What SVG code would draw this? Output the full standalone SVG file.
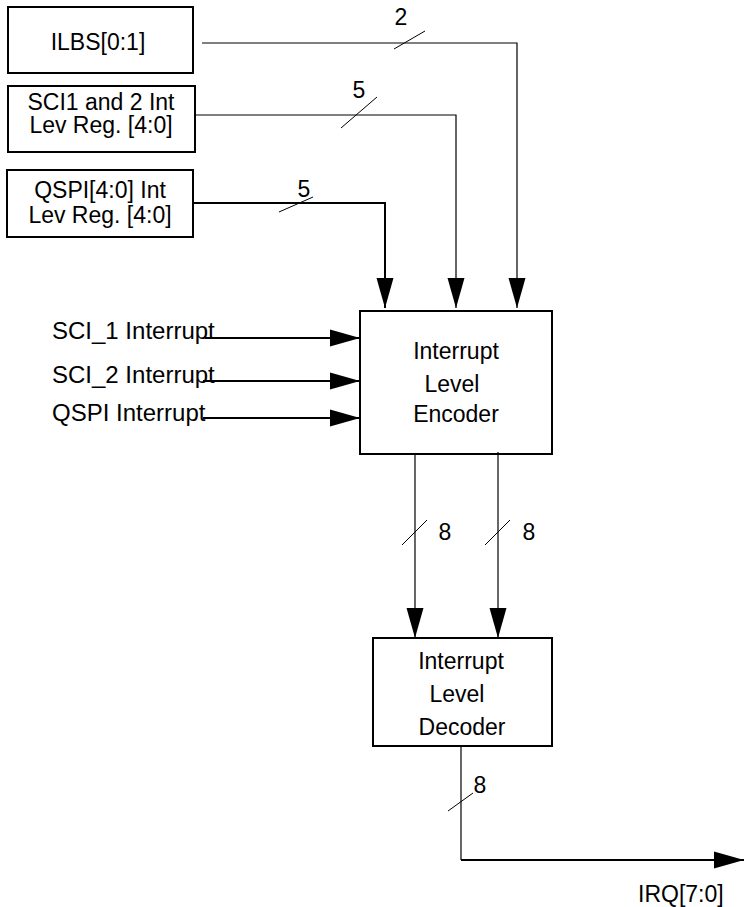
<svg xmlns="http://www.w3.org/2000/svg" width="744" height="907" viewBox="0 0 744 907">
<defs>
<style>
text{font-family:"Liberation Sans",Arial,Helvetica,sans-serif;font-size:23px;fill:#000}
.c{text-anchor:middle}
.lbl{font-size:24px}
.box{fill:#fff;stroke:#000;stroke-width:2}
.thin{fill:none;stroke:#000;stroke-width:1.2}
.thick{fill:none;stroke:#000;stroke-width:2}
.slash{fill:none;stroke:#000;stroke-width:1}
</style>
<marker id="arr" markerUnits="userSpaceOnUse" markerWidth="30" markerHeight="18" refX="30" refY="8.5" orient="auto" viewBox="0 0 30 17">
<path d="M0,0 L30,8.5 L0,17 z" fill="#000"/>
</marker>
</defs>
<rect width="744" height="907" fill="#fff"/>
<g id="ilbs">
<rect class="box" x="8" y="7" width="185" height="66"/>
<text class="c" x="98" y="50">ILBS[0:1]</text>
</g>
<g id="sci-reg">
<rect class="box" x="8" y="86" width="187" height="66"/>
<text class="c" x="101" y="110">SCI1 and 2 Int</text>
<text class="c" x="101" y="133">Lev Reg. [4:0]</text>
</g>
<g id="qspi-reg">
<rect class="box" x="7" y="170" width="186" height="67"/>
<text class="c" x="100" y="198">QSPI[4:0] Int</text>
<text class="c" x="100" y="223">Lev Reg. [4:0]</text>
</g>
<g id="encoder">
<rect class="box" x="360" y="311" width="192" height="143"/>
<text class="c" x="456" y="359">Interrupt</text>
<text class="c" x="452" y="392">Level</text>
<text class="c" x="456" y="422">Encoder</text>
</g>
<g id="decoder">
<rect class="box" x="373" y="638" width="179" height="108"/>
<text class="c" x="461" y="669">Interrupt</text>
<text class="c" x="457" y="702">Level</text>
<text class="c" x="462" y="735">Decoder</text>
</g>
<g id="labels">
<text class="lbl" x="52" y="339">SCI_1 Interrupt</text>
<text class="lbl" x="52" y="383">SCI_2 Interrupt</text>
<text class="lbl" x="52" y="421">QSPI Interrupt</text>
<text x="638" y="902">IRQ[7:0]</text>
<text class="c" x="401" y="25">2</text>
<text class="c" x="359" y="98">5</text>
<text class="c" x="304" y="197">5</text>
<text class="c" x="445" y="540">8</text>
<text class="c" x="529" y="540">8</text>
<text class="c" x="480" y="793">8</text>
</g>
<g id="connectors">
<polyline class="thin" points="202,43 517,43 517,308" marker-end="url(#arr)"/>
<polyline class="thin" points="195,115 456,115 456,308" marker-end="url(#arr)"/>
<polyline class="thick" points="193,203 385,203 385,308" marker-end="url(#arr)"/>
<line class="thick" x1="205" y1="338" x2="360" y2="338" marker-end="url(#arr)"/>
<line class="thick" x1="203" y1="381" x2="360" y2="381" marker-end="url(#arr)"/>
<line class="thick" x1="203" y1="418" x2="360" y2="418" marker-end="url(#arr)"/>
<line class="thin" x1="415" y1="454" x2="415" y2="638" marker-end="url(#arr)"/>
<line class="thin" x1="498" y1="452" x2="498" y2="638" marker-end="url(#arr)"/>
<polyline class="thin" points="461,746 461,860"/>
<line class="thick" x1="461" y1="860" x2="744" y2="860" marker-end="url(#arr)"/>
<line class="slash" x1="394" y1="49" x2="425" y2="31"/>
<line class="slash" x1="341" y1="128" x2="377" y2="97"/>
<line class="slash" x1="279" y1="212" x2="313" y2="197"/>
<line class="slash" x1="402" y1="545" x2="427" y2="520"/>
<line class="slash" x1="485" y1="545" x2="510" y2="520"/>
<line class="slash" x1="448" y1="811" x2="473" y2="793"/>
</g>
</svg>
